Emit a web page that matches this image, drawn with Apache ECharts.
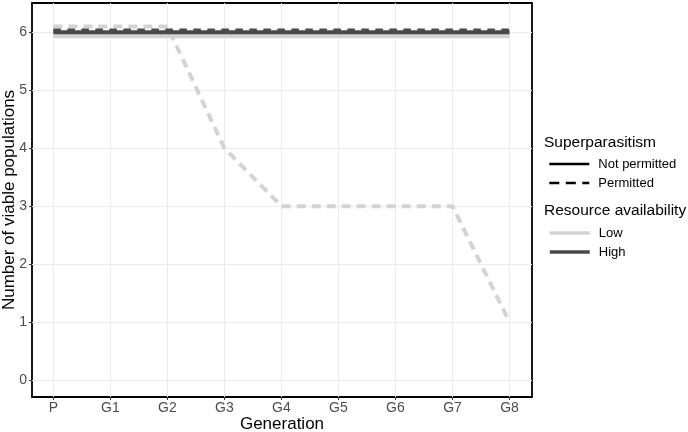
<!DOCTYPE html>
<html>
<head>
<meta charset="utf-8">
<script src="https://cdn.jsdelivr.net/npm/echarts@6/dist/echarts.min.js"></script>
<style>html,body{margin:0;padding:0;background:#fff}#c{width:688px;height:432px}</style>
</head>
<body>
<div id="c"></div>
<script>
// ---- data ----
const categories = ['P','G1','G2','G3','G4','G5','G6','G7','G8'];
const yTicks = [0,1,2,3,4,5,6];
const lowNotPermitted  = [5.96,5.96,5.96,5.96,5.96,5.96,5.96,5.96,5.96];
const lowPermitted     = [6.1,6.1,6.1,4,3,3,3,3,1];
const highNotPermitted = [6,6,6,6,6,6,6,6,6];
const highPermitted    = [6.03,6.03,6.03,6.03,6.03,6.03,6.03,6.03,6.03];
const superLegend = ['Not permitted','Permitted'];
const resourceLegend = ['Low','High'];

const LIGHT = '#d3d3d3', DARK = '#4a4a4a';
const FONT = 'Liberation Sans';
const toPairs = vals => categories.map((c,i)=>[i, vals[i]]);
const xTicks = categories.map((c,i)=>i);

const chart = echarts.init(document.getElementById('c'), null, {renderer:'canvas'});
const mk = (name, vals, color, width, type) => ({
  name, type:'line', data: toPairs(vals), symbol:'none', clip:false,
  lineStyle:{color, width, type, cap:'butt', join:'round'}, itemStyle:{color},
  emphasis:{disabled:true}, silent:true, animation:false
});
const dummy = (name, color, width, type) => ({
  name, type:'line', data:[], symbol:'none', lineStyle:{color, width, type, cap:'butt'}, itemStyle:{color, opacity:0}, animation:false
});
const legendBase = {orient:'vertical', left:548, padding:0, itemWidth:40, itemHeight:14, itemGap:5,
  itemStyle:{opacity:0},
  textStyle:{fontSize:13, color:'#000', lineHeight:14, fontFamily:FONT, padding:[0,0,0,4]}, selectedMode:false};

chart.setOption({
  animation:false,
  textStyle:{fontFamily:FONT},
  grid:{left:32, right:156, top:3, bottom:35, containLabel:false, outerBoundsMode:'none',
        show:true, borderColor:'#000', borderWidth:1.8, backgroundColor:'transparent'},
  xAxis:{
    type:'value', min:-0.375, max:8.395,
    name:'Generation', nameLocation:'middle', nameGap:19, nameMoveOverlap:false,
    nameTextStyle:{fontSize:17, color:'#000', fontFamily:FONT},
    axisLine:{show:false, onZero:false},
    axisTick:{show:true, inside:false, length:3, customValues:xTicks, lineStyle:{color:'#333', width:1}},
    axisLabel:{customValues:xTicks, margin:4, fontSize:14, color:'#4d4d4d', fontFamily:FONT,
      formatter:v=>categories[Math.round(v)]},
    splitLine:{show:true, lineStyle:{color:'#ebebeb', width:1}}
  },
  yAxis:{
    type:'value', min:-0.293, max:6.506,
    name:'Number of viable populations', nameLocation:'middle', nameGap:14, nameMoveOverlap:false,
    nameTextStyle:{fontSize:17, color:'#000', fontFamily:FONT},
    axisLine:{show:false, onZero:false},
    axisTick:{show:true, inside:false, length:3, customValues:yTicks, lineStyle:{color:'#333', width:1}},
    axisLabel:{customValues:yTicks, margin:5, fontSize:14, color:'#4d4d4d', fontFamily:FONT},
    splitLine:{show:true, lineStyle:{color:'#ebebeb', width:1}}
  },
  legend:[
    Object.assign({data:superLegend, top:157, lineStyle:{width:2.6}}, legendBase),
    Object.assign({data:resourceLegend, top:226, lineStyle:{width:3.5}}, legendBase)
  ],
  graphic:[
    {type:'text', left:544, top:135, style:{text:'Superparasitism', font:'15.5px "Liberation Sans"', fill:'#000'}},
    {type:'text', left:544, top:203, style:{text:'Resource availability', font:'15.5px "Liberation Sans"', fill:'#000'}}
  ],
  series:[
    mk('Low / Permitted', lowPermitted, LIGHT, 4, [9,6]),
    mk('Low / Not permitted', lowNotPermitted, LIGHT, 7, 'solid'),
    mk('High / Not permitted', highNotPermitted, DARK, 4, 'solid'),
    mk('High / Permitted', highPermitted, DARK, 4, [7.5,6.5]),
    dummy('Not permitted', '#000', 2.6, 'solid'),
    dummy('Permitted', '#000', 2.6, [10,6.5]),
    dummy('Low', LIGHT, 3.5, 'solid'),
    dummy('High', DARK, 3.5, 'solid')
  ]
});
</script>
</body>
</html>
